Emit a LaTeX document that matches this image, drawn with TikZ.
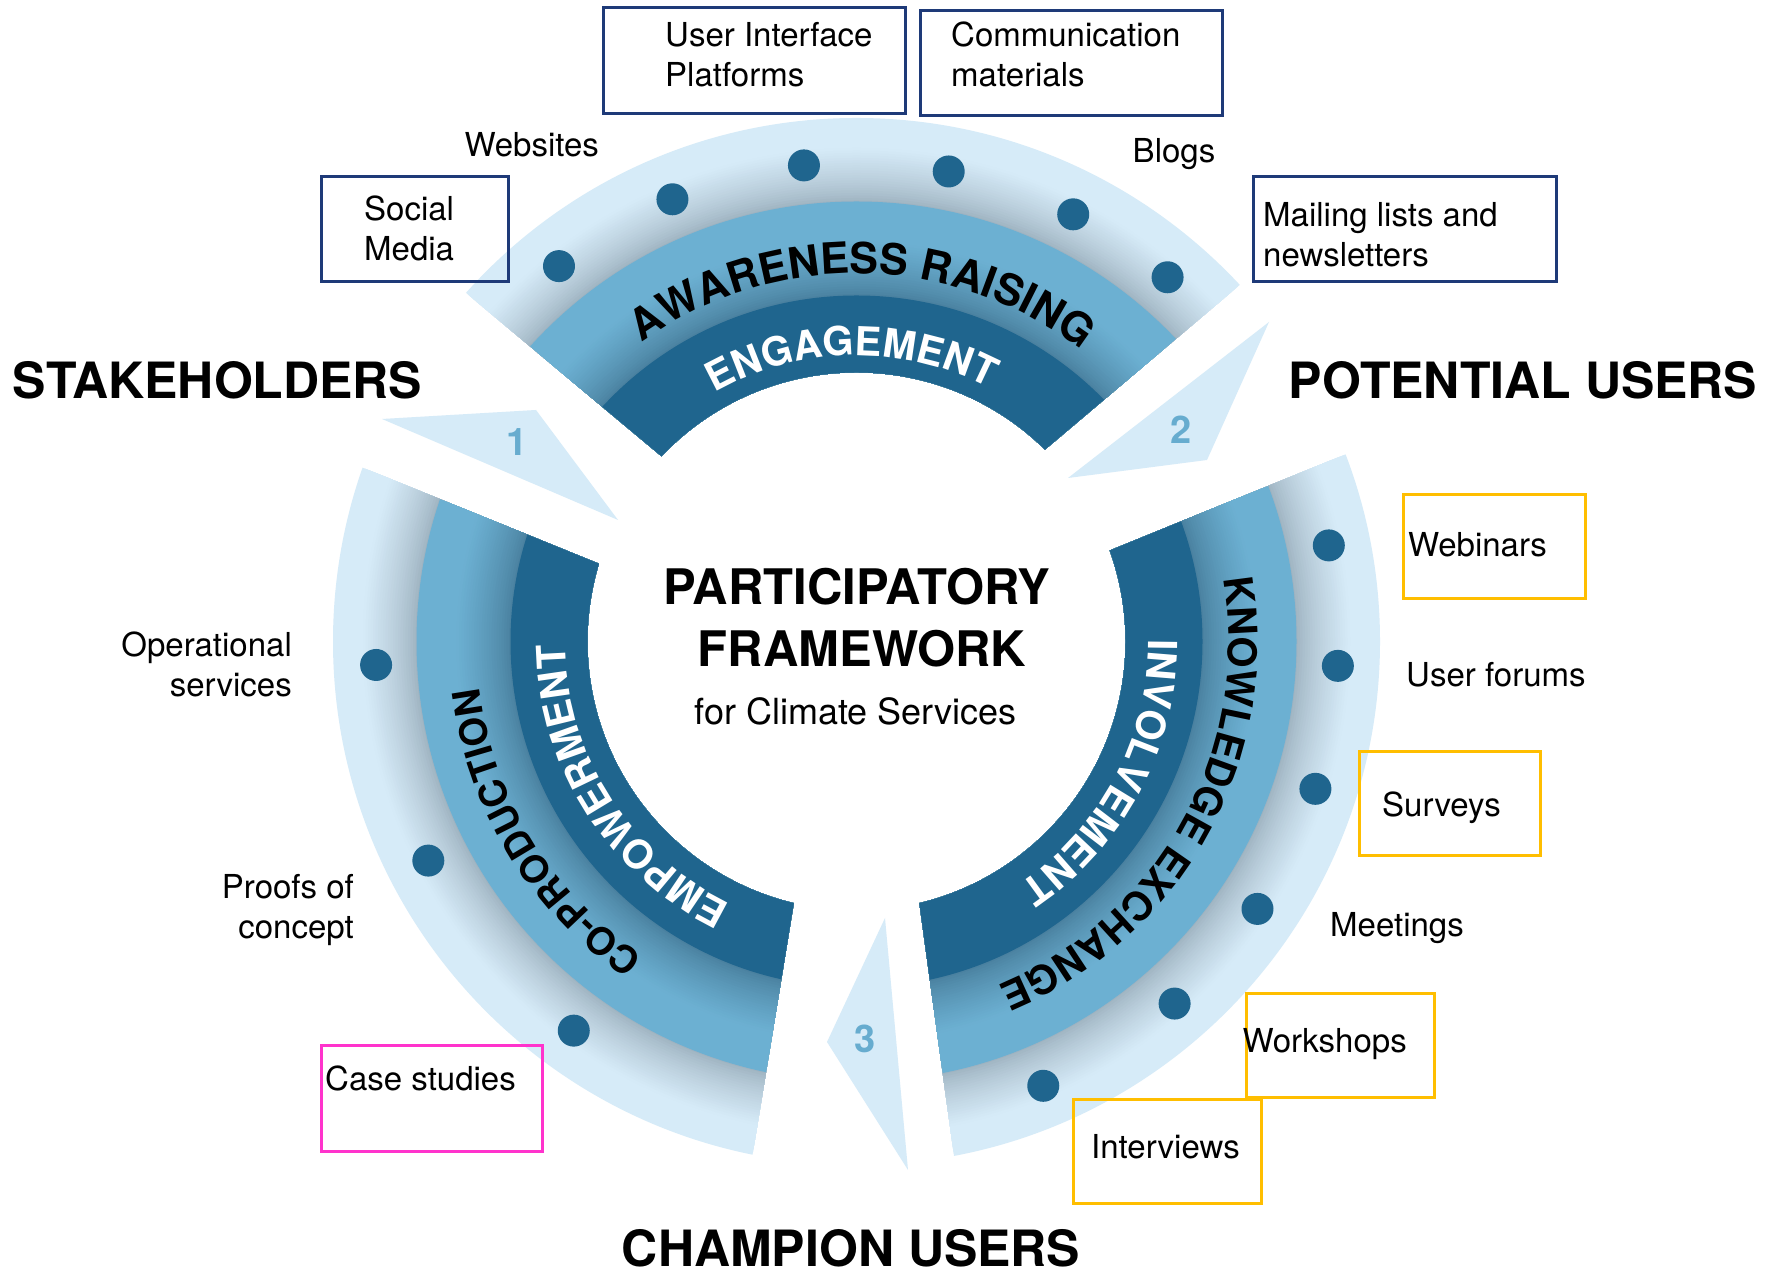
\documentclass[tikz,border=0pt]{standalone}
\usepackage{fontspec}
\setmainfont{TeX Gyre Heros}
\usetikzlibrary{calc,decorations.text}

\definecolor{dkblue}{RGB}{31,101,142}
\definecolor{mdblue}{RGB}{108,176,210}
\definecolor{ltblue}{RGB}{214,235,248}
\definecolor{mdshadow}{RGB}{72,126,156}
\definecolor{ltshadow}{RGB}{156,176,190}
\definecolor{navy}{RGB}{30,58,120}
\definecolor{gold}{RGB}{255,190,0}
\definecolor{pinkbox}{RGB}{255,51,204}
\definecolor{numblue}{RGB}{103,172,207}

\newcommand{\ringseg}[5]{%
  \begin{scope}
    \clip ($(#1)!-0.5!(#2)$) -- ($(#1)!1.4!(#2)$) -- ($(C)+(#5:1100)$)
      -- ($(#3)!1.4!(#4)$) -- ($(#3)!-0.5!(#4)$) -- cycle;
    \foreach \r in {523.5,521,...,441}{%
      \pgfmathsetmacro{\p}{100*(min(1,(\r-440)/55))^0.75}%
      \fill[ltblue!\p!ltshadow, even odd rule] (C) circle[radius=\r] (C) circle[radius=269];}
    \foreach \r in {440,437.5,...,347}{%
      \pgfmathsetmacro{\p}{100*(min(1,(\r-346)/55))^0.75}%
      \fill[mdblue!\p!mdshadow, even odd rule] (C) circle[radius=\r] (C) circle[radius=269];}
    \fill[dkblue, even odd rule] (C) circle[radius=346] (C) circle[radius=269];
  \end{scope}}

\newcommand{\ringbig}{\fontsize{43}{43}\selectfont\bfseries}
\newcommand{\ringmid}{\fontsize{40}{40}\selectfont\bfseries}
\newcommand{\ringsm}{\fontsize{38}{38}\selectfont\bfseries}

\begin{document}
\begin{tikzpicture}[x=1pt,y=1pt,
  lbl/.style={font=\fontsize{33}{40}\selectfont, inner sep=0pt},
  head/.style={font=\fontsize{50}{60}\selectfont\bfseries, inner sep=0pt},
  num/.style={font=\fontsize{38}{40}\selectfont\bfseries, text=numblue, inner sep=0pt},
  lblbox/.style={draw=#1, line width=3pt, inner sep=0pt},
  dot/.style={fill=dkblue},
  arrowtri/.style={fill=ltblue}]
\useasboundingbox (0,0) rectangle (1783,1276);
\fill[white] (0,0) rectangle (1783,1276);
\coordinate (C) at (856.5,634.5);

% ---- segments ----
\coordinate (TAi) at (660,821);  \coordinate (TAo) at (465,984);
\coordinate (TBi) at (1048,829); \coordinate (TBo) at (1242,993);
\ringseg{TAi}{TAo}{TBi}{TBo}{90}
\coordinate (LAi) at (597,713);  \coordinate (LAo) at (361,809);
\coordinate (LBi) at (793,368);  \coordinate (LBo) at (752,118);
\ringseg{LAi}{LAo}{LBi}{LBo}{209}
\coordinate (RAi) at (1116,728); \coordinate (RAo) at (1349,823);
\coordinate (RBi) at (920,368);  \coordinate (RBo) at (955,113);
\ringseg{RAi}{RAo}{RBi}{RBo}{-30}

% ---- dots ----
\foreach \a in {128.4,112.6,96.3,78.9,63.1,49.5}
  \fill[dot] ($(C)+(\a:479)$) circle[radius=16];
\foreach \a in {11.5,-2.9,-17.8,-33.7,-48.7,-67.2}
  \fill[dot] ($(C)+(\a:482)$) circle[radius=16];
\foreach \a in {182.8,207.1,234.0}
  \fill[dot] ($(C)+(\a:481)$) circle[radius=16];

% ---- arrows ----
\fill[arrowtri] (382,857) -- (536,866) -- (618,756) -- cycle;
\fill[arrowtri] (1269,954) -- (1207,816) -- (1068,798) -- cycle;
\fill[arrowtri] (885,358) -- (827,234) -- (908,106) -- cycle;
\node[num] (n1) at (517,833.5) {1};
\node[num] (n2) at (1181,846) {2};
\node[num] (n3) at (865.5,237) {3};

% ---- ring texts ----
\path[decorate,decoration={text along path,text align=center,
  text={|\ringbig\color{black}|AWARENESS RAISING}}]
  ($(C)+(140:368)$) arc[start angle=140,end angle=38,radius=368];
\path[decorate,decoration={text along path,text align=center,
  text={|\ringmid\color{white}|ENGAGEMENT}}]
  ($(C)+(141:286)$) arc[start angle=141,end angle=41,radius=286];
\path[decorate,decoration={text along path,text align=center,
  text={|\ringmid\color{black}|KNOWLEDGE EXCHANGE}}]
  ($(C)+(21:372)$) arc[start angle=21,end angle=-79,radius=372];
\path[decorate,decoration={text along path,text align=center,
  text={|\ringmid\color{white}|INVOLVEMENT}}]
  ($(C)+(22:292)$) arc[start angle=22,end angle=-78,radius=292];
\path[decorate,decoration={text along path,text align=center,
  text={|\ringsm\color{black}|CO-PRODUCTION}}]
  ($(C)+(262:380)$) arc[start angle=262,end angle=161,radius=380];
\path[decorate,decoration={text along path,text align=center,
  text={|\ringmid\color{white}|EMPOWERMENT}}]
  ($(C)+(263:291)$) arc[start angle=263,end angle=162,radius=291];

% ---- centre title ----
\node[font=\fontsize{49}{60}\selectfont\bfseries, inner sep=0pt, anchor=base] (t1) at (857,671) {PARTICIPATORY};
\node[font=\fontsize{49}{60}\selectfont\bfseries, inner sep=0pt, anchor=base] (t2) at (862,609) {FRAMEWORK};
\node[font=\fontsize{36}{40}\selectfont, inner sep=0pt, anchor=base] (t3) at (855.5,551) {for Climate Services};

% ---- headings ----
\node[head, anchor=base west] (stake) at (12.7,877) {STAKEHOLDERS};
\node[head, anchor=base] (potential) at (1523,877) {POTENTIAL USERS};
\node[head, anchor=base] (champion) at (851,9) {CHAMPION USERS};

% ---- boxes ----
\node[lblbox=navy, minimum width=187pt, minimum height=105pt] (smbox) at (414.5,1046.5) {};
\node[lblbox=navy, minimum width=302pt, minimum height=106pt] (uibox) at (754,1215) {};
\node[lblbox=navy, minimum width=302pt, minimum height=105pt] (cmbox) at (1071,1212.5) {};
\node[lblbox=navy, minimum width=303pt, minimum height=105pt] (mlbox) at (1404.5,1046.5) {};
\node[lblbox=gold, minimum width=182pt, minimum height=104pt] (wbbox) at (1494,729) {};
\node[lblbox=gold, minimum width=181pt, minimum height=104pt] (svbox) at (1449.5,472) {};
\node[lblbox=gold, minimum width=188pt, minimum height=104pt] (wsbox) at (1340,230) {};
\node[lblbox=gold, minimum width=188pt, minimum height=104pt] (ivbox) at (1167,124) {};
\node[lblbox=pinkbox, minimum width=221pt, minimum height=106pt] (csbox) at (431.5,177) {};

% ---- labels ----
\node[lbl, anchor=north west, align=left] (smtxt) at (364,1080) {Social\\Media};
\node[lbl, anchor=north west, align=left] (uitxt) at (665,1254) {User Interface\\Platforms};
\node[lbl, anchor=north west, align=left] (cmtxt) at (951,1254) {Communication\\materials};
\node[lbl, anchor=north west, align=left] (mltxt) at (1263,1074) {Mailing lists and\\newsletters};
\node[lbl, anchor=base] (webs) at (531.8,1119) {Websites};
\node[lbl, anchor=base] (blogs) at (1174,1113) {Blogs};
\node[lbl, anchor=base west] (webin) at (1408,719) {Webinars};
\node[lbl, anchor=base west] (forum) at (1406,589) {User forums};
\node[lbl, anchor=base west] (surv) at (1382,459) {Surveys};
\node[lbl, anchor=base west] (meet) at (1330,339) {Meetings};
\node[lbl, anchor=base west] (works) at (1242.5,223) {Workshops};
\node[lbl, anchor=base west] (interv) at (1091,117) {Interviews};
\node[lbl, anchor=base west] (cases) at (325,185) {Case studies};
\node[lbl, anchor=north east, align=right] (oper) at (292,644) {Operational\\services};
\node[lbl, anchor=north east, align=right] (proof) at (354,402) {Proofs of\\concept};
\end{tikzpicture}
\end{document}
